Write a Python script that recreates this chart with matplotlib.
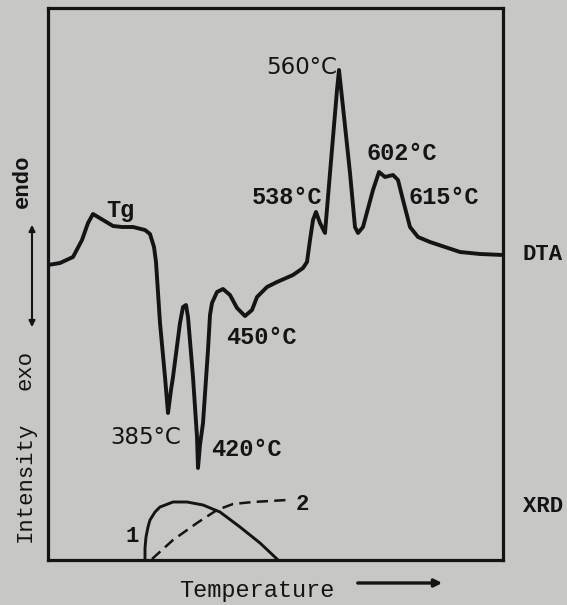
import matplotlib.pyplot as plt
from matplotlib.patches import FancyArrowPatch

dta_t = [0, 12, 25, 34, 40, 45, 55, 65, 74, 85, 97, 102, 106, 108, 112, 117, 120,
         123, 125, 132, 135, 138, 140, 145, 149, 150, 152, 155, 160, 162, 164, 169,
         175, 182, 189, 197, 204, 209, 219, 229, 245, 255, 259, 262, 265, 268, 272,
         277, 282, 289, 291, 295, 302, 307, 310, 315, 325, 331, 337, 345, 350, 355,
         362, 370, 382, 397, 412, 432, 455]
dta_s = [295, 297, 303, 320, 337, 346, 340, 334, 333, 333, 330, 326, 313, 298, 237,
         183, 147, 170, 183, 237, 253, 255, 243, 183, 123, 92, 115, 137, 210, 245,
         257, 268, 271, 265, 252, 244, 250, 263, 273, 278, 285, 292, 298, 320, 340,
         348, 337, 327, 387, 470, 490, 453, 387, 333, 327, 333, 370, 388, 383, 385,
         380, 360, 333, 323, 318, 313, 308, 306, 305]

# XRD intensity, curve 1 (solid) and curve 2 (dashed)
xrd1_t = [97, 97, 98, 100, 102, 107, 112, 125, 139, 155, 172, 192, 212, 229]
xrd1_i = [0, 12, 23, 33, 40, 48, 53, 58, 58, 55, 48, 33, 17, 1]
xrd2_t = [104, 125, 149, 169, 185, 205, 239]
xrd2_i = [1, 20, 37, 50, 56, 58, 60]

peak_labels = ["385°C", "420°C", "450°C", "538°C", "560°C", "602°C", "615°C"]
peak_pos = [(98, 123), (198, 110), (213, 223), (239, 363), (254, 492), (354, 407), (396, 363)]

bg = "#c7c7c5"
ink = "#141414"
mono = "Liberation Mono"

fig = plt.figure(figsize=(5.67, 6.05), dpi=100, facecolor=bg)
ax = fig.add_axes([48/567, 45/605, 455/567, 552/605], facecolor=bg)

ax.plot(dta_t, dta_s, color=ink, lw=2.8, solid_joinstyle="round", solid_capstyle="round")
ax.plot(xrd1_t, xrd1_i, color=ink, lw=2.1, solid_joinstyle="round")
ax.plot(xrd2_t, xrd2_i, color=ink, lw=1.8, dashes=(4.5, 2.5))

ax.set_xlim(0, 455)
ax.set_ylim(0, 552)
ax.set_xticks([])
ax.set_yticks([])
for sp in ax.spines.values():
    sp.set_linewidth(2.3)
    sp.set_color(ink)

for lab, (x, y) in zip(peak_labels, peak_pos):
    if lab in ("385°C", "560°C"):
        ax.text(x, y, lab, ha="center", va="center", fontsize=16.5, color=ink,
                family="DejaVu Sans")
    else:
        ax.text(x, y, lab, ha="center", va="center", fontsize=17, color=ink,
                family=mono, weight="bold")

ax.text(72, 350, "Tg", ha="center", va="center", fontsize=17, color=ink, family=mono, weight="bold")
ax.text(84, 23, "1", ha="center", va="center", fontsize=16, color=ink, family=mono, weight="bold")
ax.text(254, 55, "2", ha="center", va="center", fontsize=16, color=ink, family=mono, weight="bold")

ax.text(495, 305, "DTA", ha="center", va="center", fontsize=16, color=ink, family=mono,
        weight="bold", clip_on=False)
ax.text(495, 53, "XRD", ha="center", va="center", fontsize=16, color=ink, family=mono,
        weight="bold", clip_on=False)

# left-hand axis caption
fig.text(22/567, 1 - 181/605, "endo", rotation=90, ha="center", va="center",
         fontsize=16, color=ink, family=mono, weight="bold")
fig.text(25/567, 1 - 370/605, "exo", rotation=90, ha="center", va="center",
         fontsize=16, color=ink, family=mono)
fig.text(25/567, 1 - 482/605, "Intensity", rotation=90, ha="center", va="center",
         fontsize=16, color=ink, family=mono)
fig.patches.append(FancyArrowPatch(
    (32/567, 1 - 222/605), (32/567, 1 - 330/605), transform=fig.transFigure,
    arrowstyle="<|-|>", mutation_scale=9, lw=1.5, color=ink))

# bottom caption
fig.text(257/567, 1 - 590/605, "Temperature", ha="center", va="center",
         fontsize=17, color=ink, family=mono)
fig.patches.append(FancyArrowPatch(
    (355/567, 1 - 583/605), (445/567, 1 - 583/605), transform=fig.transFigure,
    arrowstyle="-|>", mutation_scale=11, lw=2.4, color=ink))

fig.savefig("out.png", dpi=100, facecolor=bg)
